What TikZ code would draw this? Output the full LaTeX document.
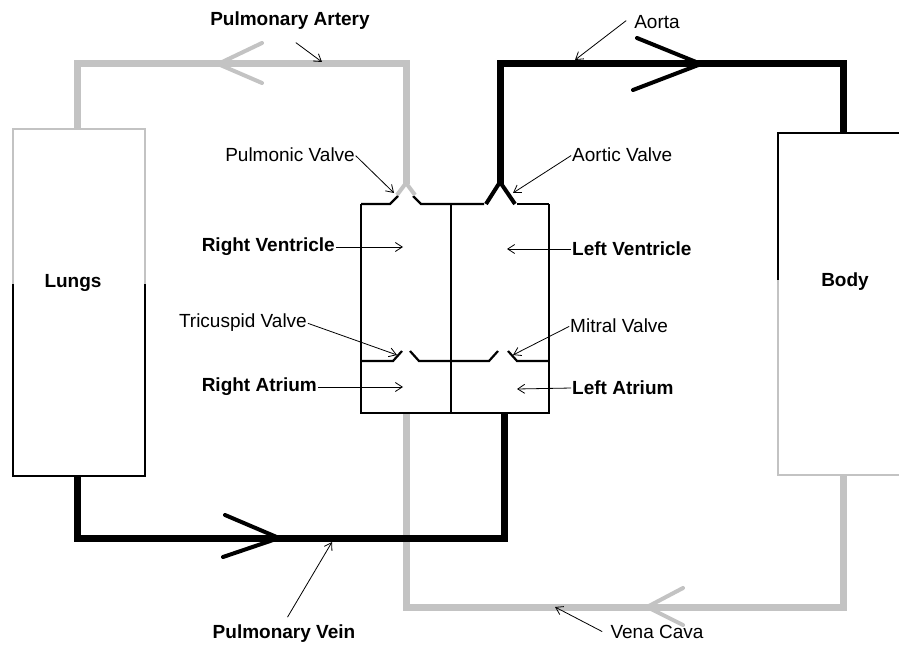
\documentclass[tikz,border=0pt]{standalone}
\usepackage{fontspec}
\setmainfont{Liberation Sans}
\usetikzlibrary{arrows.meta}
\definecolor{venous}{RGB}{195,195,195}
\tikzset{
  vessel/.style={line width=7pt, line join=miter},
  chevron/.style={line width=4pt, line cap=round},
  wall/.style={line width=2.2pt, line join=miter},
  pointer/.style={line width=0.8pt, -{Straight Barb[length=7pt,width=9pt]}, shorten <=1pt},
  lbl/.style={inner sep=0pt, font=\fontsize{19}{21}\selectfont},
  blbl/.style={inner sep=0pt, font=\fontsize{19}{21}\selectfont\bfseries},
}
\begin{document}
\begin{tikzpicture}[x=1pt, y=-1pt]
\useasboundingbox (0,0) rectangle (899,647);
\clip (0,0) rectangle (899,647);
\fill[white] (0,0) rectangle (899,647);

% ---- organ boxes ----
\draw[wall, venous] (13,284) -- (13,129) -- (145,129) -- (145,284);
\draw[wall, black]  (13,284) -- (13,476) -- (145,476) -- (145,284);
\draw[wall, black]  (778,280) -- (778,133) -- (912,133);
\draw[wall, venous] (778,280) -- (778,475) -- (912,475);
\node[blbl] (lungs) at (73,283) {Lungs};
\node[blbl] (body)  at (845,282) {Body};

% ---- vessels ----
\draw[vessel, venous] (406,413) -- (406,607) -- (843,607) -- (843,475);
\draw[vessel, black]  (77,476) -- (77,538) -- (504,538) -- (504,413);
\draw[vessel, venous] (77,129) -- (77,64) -- (406,64) -- (406,184);
\draw[vessel, black]  (500,184) -- (500,64) -- (843,64) -- (843,133);

% flow direction chevrons
\draw[chevron, venous] (262,43) -- (218,64) -- (262,83);
\draw[chevron, black]  (637,38) -- (701,64) -- (633,90);
\draw[chevron, black]  (225,515) -- (279,538) -- (223,557);
\draw[chevron, venous] (683,588) -- (647,607) -- (683,625);

% ---- heart chambers ----
\draw[wall] (361,204) -- (361,413) -- (549,413) -- (549,204);
\draw[wall] (451,204) -- (451,413);
% top edge with pulmonic and aortic valves
\draw[wall] (361,204) -- (390,204) -- (398,196);
\draw[wall] (413,196) -- (421,204) -- (484,204);
\draw[wall] (517,204) -- (549,204);
\draw[line width=4pt, venous, line join=round] (397,195) -- (406,183) -- (415,195);
\draw[line width=4pt, black, line join=miter] (486,204) -- (500,182) -- (515,204);
% atrioventricular divider with tricuspid and mitral valves
\draw[wall] (361,361) -- (393,361) -- (402,351);
\draw[wall] (410,351) -- (419,361) -- (489,361) -- (498,351);
\draw[wall] (508,351) -- (517,361) -- (549,361);

% ---- labels ----
\node[blbl] (lblPA)  at (290,21) {Pulmonary Artery};
\node[lbl]  (lblAo)  at (657,22) {Aorta};
\node[lbl, anchor=east]  (lblPV)  at (355,155) {Pulmonic Valve};
\node[lbl, anchor=west]  (lblAV)  at (572,155) {Aortic Valve};
\node[blbl, anchor=east] (lblRV)  at (335,247) {Right Ventricle};
\node[blbl, anchor=west] (lblLV)  at (572,249) {Left Ventricle};
\node[lbl, anchor=east]  (lblTV)  at (307,323) {Tricuspid Valve};
\node[lbl, anchor=west]  (lblMV)  at (570,326) {Mitral Valve};
\node[blbl, anchor=east] (lblRA)  at (317,387) {Right Atrium};
\node[blbl, anchor=west] (lblLA)  at (572,388) {Left Atrium};
\node[blbl] (lblPVn) at (284,634) {Pulmonary Vein};
\node[lbl]  (lblVC)  at (657,632) {Vena Cava};

% pointer ends
\coordinate (pPA0) at (295,42);  \coordinate (pPA) at (322,62);
\coordinate (pAo0) at (627,20);  \coordinate (pAo) at (575,60);
\coordinate (pPV)  at (394,193);
\coordinate (pAV)  at (513,193);
\coordinate (pRV)  at (403,247);
\coordinate (pLV)  at (507,249);
\coordinate (pTV)  at (397,355);
\coordinate (pMV)  at (513,355);
\coordinate (pRA)  at (403,387);
\coordinate (pLA)  at (517,389);
\coordinate (pPVn0) at (287,618); \coordinate (pPVn) at (332,542);
\coordinate (pVC0) at (603,632);  \coordinate (pVC) at (555,607);

\draw[pointer] (pPA0) -- (pPA);
\draw[pointer] (pAo0) -- (pAo);
\draw[pointer] (lblPV.east) -- (pPV);
\draw[pointer] (lblAV.west) -- (pAV);
\draw[pointer] (lblRV.east) -- (pRV);
\draw[pointer] (lblLV.west) -- (pLV);
\draw[pointer] (lblTV.east) -- (pTV);
\draw[pointer] (lblMV.west) -- (pMV);
\draw[pointer] (lblRA.east) -- (pRA);
\draw[pointer] (lblLA.west) -- (pLA);
\draw[pointer] (pPVn0) -- (pPVn);
\draw[pointer] (pVC0) -- (pVC);
\end{tikzpicture}
\end{document}
